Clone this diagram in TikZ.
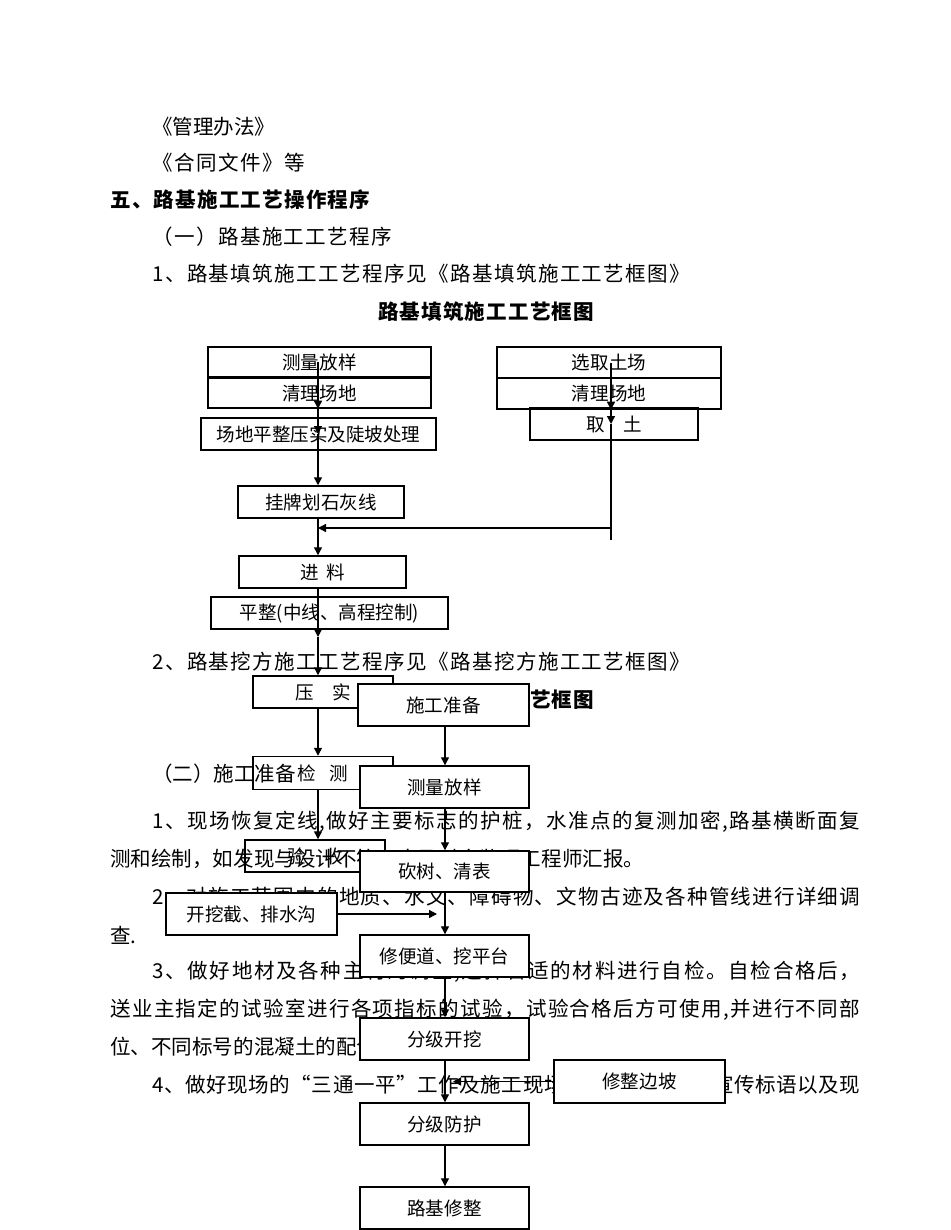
\documentclass[tikz,border=0pt]{standalone}
\usepackage{fontspec}
\setmainfont{Noto Sans CJK SC}
\usetikzlibrary{arrows.meta}
\newcommand{\bodysize}{\fontsize{15.4pt}{18pt}\selectfont}
\newcommand{\boxsize}{\fontsize{13.9pt}{16pt}\selectfont}
% spread a line of text to a given width
\ExplSyntaxOn
\NewDocumentCommand{\jline}{mm}
  {\makebox[#1][s]{\tl_map_inline:nn {#2} {##1\hskip 0pt plus 1fil\relax}\unskip}}
\ExplSyntaxOff

\begin{document}
\begin{tikzpicture}[x=0.75pt, y=-0.75pt, >={Triangle[length=6pt,width=6pt]},
  body/.style={anchor=west, inner sep=0pt, font=\bodysize},
  title/.style={inner sep=0pt, font=\bodysize\bfseries},
  lbox/.style={draw, line width=1.1pt, inner sep=0pt, minimum height=24pt, font=\boxsize},
  rbox/.style={draw, fill=white, line width=1.1pt, inner sep=0pt, minimum width=126.75pt, minimum height=31.5pt, font=\boxsize},
  flow/.style={->, line width=1pt}]
  \useasboundingbox (0,0) rectangle (950,1230);
  % page text
  \node[body] (guanli) at (152,127) {\jline{90.75pt}{《管理办法》}};
  \node[body] (hetong) at (152,163) {\jline{114.75pt}{《合同文件》等}};
  \node[body, font=\bodysize\bfseries] (wu) at (110,200) {\jline{195pt}{五、路基施工工艺操作程序}};
  \node[body] (yi) at (152,237) {\jline{180pt}{（一）路基施工工艺程序}};
  \node[body] (tian) at (152,274) {\jline{403.5pt}{1、路基填筑施工工艺程序见《路基填筑施工工艺框图》}};
  \node[title] (tiantitle) at (486,312) {\jline{162pt}{路基填筑施工工艺框图}};
  \node[body] (wa) at (152,662) {\jline{403.5pt}{2、路基挖方施工工艺程序见《路基挖方施工工艺框图》}};
  \node[title] (watitle) at (486,700) {\jline{162pt}{路基挖方施工工艺框图}};
  \node[body] (er) at (152,774) {（二）施工准备};
  \node[body] (p1a) at (152,822) {\jline{531pt}{1、现场恢复定线,做好主要标志的护桩，水准点的复测加密,路基横断面复}};
  \node[body] (p1b) at (110,859) {测和绘制，如发现与设计不符，应及时向监理工程师汇报。};
  \node[body] (p2a) at (152,897) {\jline{531pt}{2、对施工范围内的地质、水文、障碍物、文物古迹及各种管线进行详细调}};
  \node[body] (p2b) at (110,935) {查.};
  \node[body] (p3a) at (152,972) {\jline{531pt}{3、做好地材及各种主材的调查,选择合适的材料进行自检。自检合格后，}};
  \node[body] (p3b) at (110,1010) {\jline{562.5pt}{送业主指定的试验室进行各项指标的试验，试验合格后方可使用,并进行不同部}};
  \node[body] (p3c) at (110,1047) {位、不同标号的混凝土的配合比试验。};
  \node[body] (p4) at (152,1085) {\jline{531pt}{4、做好现场的“三通一平”工作及施工现场的安全标志牌、宣传标语以及现}};

  % fill chart
  \coordinate (lt) at (318,0);
  \coordinate (rt) at (611,0);
  \coordinate (mt) at (445,0);
  \node[lbox, minimum width=167.25pt, minimum height=22.5pt] (cl1) at (319.5,362) {测量放样};
  \node[lbox, minimum width=167.25pt, minimum height=22.5pt] (ql1) at (319.5,393) {清理场地};
  \node[lbox, minimum width=176.25pt] (pz) at (318.5,434) {场地平整压实及陡坡处理};
  \node[lbox, minimum width=124.5pt] (gp) at (321,502) {挂牌划石灰线\hspace{25pt}};
  \node[lbox, minimum width=125.25pt] (jl) at (322.5,572) {进\hspace{0.4em}料\hspace{26pt}};
  \node[lbox, minimum width=177.75pt] (pzk) at (329.5,613) {平整(中线、高程控制)\hspace{23pt}};
  \node[lbox, minimum width=105pt] (ys) at (323,692) {压\hspace{1em}实\hspace{6pt}};
  \node[lbox, minimum width=105pt, minimum height=24.75pt] (jc) at (323,773) {检\hspace{0.7em}测\hspace{18pt}};
  \node[lbox, minimum width=105pt] (yy) at (315,856) {验\hspace{1em}收\hspace{30pt}};
  \node[lbox, minimum width=168pt, minimum height=23.25pt] (xq) at (609,362.5) {选取土场};
  \node[lbox, minimum width=168pt, minimum height=23.25pt] (ql2) at (609,393.5) {清理场地};
  \node[lbox, minimum width=126pt] (qt) at (614,424) {取\hspace{1em}土\hspace{16pt}};
  \coordinate (jn) at (318,528);
  \coordinate (qtend) at (611,540);
  \coordinate (pzkend) at (318,637);

  \draw[flow] (lt |- cl1.center) -- (lt |- ql1.south);
  \draw[flow] (lt |- ql1.south) -- (lt |- pz.center);
  \draw[flow] (lt |- pz.center) -- (lt |- gp.north);
  \draw[flow] (lt |- gp.south) -- (lt |- jl.north);
  \draw[flow] (rt |- xq.center) -- (rt |- ql2.south);
  \draw[flow] (rt |- ql2.south) -- (rt |- qt.center);
  \draw[line width=1pt] (rt |- qt.center) -- (qtend);
  \draw[flow] (qtend |- jn) -- (jn);
  \draw[flow] (lt |- jl.south) -- (pzkend);
  \draw[flow] (pzkend) -- (lt |- ys.north);
  \draw[flow] (lt |- ys.south) -- (lt |- jc.north);
  \draw[flow] (lt |- jc.south) -- (lt |- yy.north);

  % cut chart
  \node[rbox, minimum width=128.25pt] (sg) at (443.5,705) {施工准备};
  \node[rbox] (cl3) at (444.5,787) {测量放样};
  \node[rbox, minimum height=30.75pt] (ks) at (444.5,871.5) {砍树、清表};
  \node[rbox, minimum width=128.25pt] (kw) at (251.5,914) {开挖截、排水沟};
  \node[rbox] (xb) at (444.5,956) {修便道、挖平台};
  \node[rbox] (fk) at (444.5,1039) {分级开挖};
  \node[rbox, minimum width=128.25pt, minimum height=32.25pt] (xz) at (639.5,1081.5) {修整边坡};
  \node[rbox] (ff) at (444.5,1124) {分级防护};
  \node[rbox] (lx) at (444.5,1208) {路基修整};
  \coordinate (kwend) at (437,914);
  \coordinate (xzend) at (453,1081.5);

  \draw[flow] (mt |- sg.south) -- (mt |- cl3.north);
  \draw[flow] (mt |- cl3.south) -- (mt |- ks.north);
  \draw[flow] (mt |- ks.south) -- (mt |- xb.north);
  \draw[flow] (kw.east) -- (kwend);
  \draw[flow] (mt |- xb.south) -- (mt |- fk.north);
  \draw[flow] (mt |- fk.south) -- (mt |- ff.north);
  \draw[flow] (xz.west) -- (xzend);
  \draw[flow] (mt |- ff.south) -- (mt |- lx.north);
\end{tikzpicture}
\end{document}
